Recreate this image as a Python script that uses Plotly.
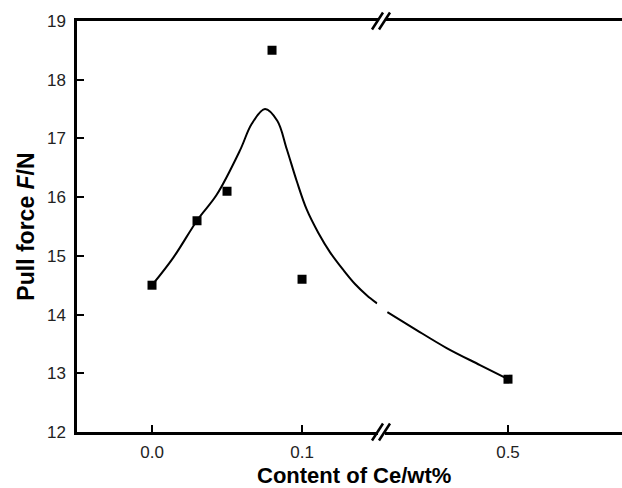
import plotly.graph_objects as go

# measured points
pts_x_left = [0.0, 0.03, 0.05, 0.08, 0.1]
pts_y_left = [14.5, 15.6, 16.1, 18.5, 14.6]
pts_x_right = [0.5]
pts_y_right = [12.9]

# fitted curve
curve_x_left = [0.0, 0.0142, 0.0305, 0.0431, 0.0587, 0.0665, 0.0753,
                0.0835, 0.0898, 0.0965, 0.1031, 0.1109, 0.1187, 0.1275, 0.1353,
                0.1431, 0.1500]
curve_y_left = [14.5, 14.97, 15.62, 16.04, 16.80, 17.25, 17.50,
                17.30, 16.82, 16.27, 15.79, 15.39, 15.06, 14.76, 14.52,
                14.33, 14.19]
curve_x_right = [0.207, 0.270, 0.351, 0.432, 0.5]
curve_y_right = [14.04, 13.77, 13.43, 13.14, 12.9]

x_ticks_left = [0.0, 0.1]
x_ticktext_left = ["0.0", "0.1"]
x_ticks_right = [0.5]
x_ticktext_right = ["0.5"]
y_ticks = [12, 13, 14, 15, 16, 17, 18, 19]

W, H = 622, 488
ML, MR, MT, MB = 77, 0, 21, 56
pw = W - ML - MR
ph = H - MT - MB
d1 = (377.5 - ML) / pw
d2 = (384.5 - ML) / pw

FONT = "Liberation Sans, Arial, sans-serif"

fig = go.Figure()
fig.add_trace(go.Scatter(x=curve_x_left, y=curve_y_left, mode="lines",
                         line=dict(color="black", width=2, shape="spline", smoothing=1.0),
                         xaxis="x", yaxis="y", showlegend=False, hoverinfo="skip"))
fig.add_trace(go.Scatter(x=curve_x_right, y=curve_y_right, mode="lines",
                         line=dict(color="black", width=2, shape="spline", smoothing=1.0),
                         xaxis="x2", yaxis="y", showlegend=False, hoverinfo="skip"))
fig.add_trace(go.Scatter(x=pts_x_left, y=pts_y_left, mode="markers",
                         marker=dict(symbol="square", size=9, color="black"),
                         xaxis="x", yaxis="y", showlegend=False))
fig.add_trace(go.Scatter(x=pts_x_right, y=pts_y_right, mode="markers",
                         marker=dict(symbol="square", size=9, color="black"),
                         xaxis="x2", yaxis="y", showlegend=False))

axis_common = dict(showgrid=False, zeroline=False, showline=True, linecolor="black",
                   linewidth=2.5, ticks="inside", ticklen=7, tickwidth=2, tickcolor="black",
                   tickfont=dict(family=FONT, size=17, color="#222"), mirror=True)

fig.update_layout(
    width=W, height=H,
    margin=dict(l=ML, r=MR, t=MT, b=MB),
    plot_bgcolor="white", paper_bgcolor="white",
    xaxis=dict(domain=[0, d1], range=[-0.05, 0.1503], tickvals=x_ticks_left,
               ticktext=x_ticktext_left, anchor="y", ticklabelstandoff=3, **axis_common),
    xaxis2=dict(domain=[d2, 1], range=[0.2, 0.2 + (W - MR - 384.5) * 0.3 / 123.5],
                tickvals=x_ticks_right, ticktext=x_ticktext_right, anchor="y",
                ticklabelstandoff=3, **axis_common),
    yaxis=dict(range=[12, 19], tickvals=y_ticks, anchor="x", ticklabelstandoff=5,
               title=dict(text="Pull force <i>F</i>/N", standoff=6,
                          font=dict(family=FONT, size=23, color="black", weight="bold")),
               **{k: v for k, v in axis_common.items() if k != "mirror"}),
    annotations=[dict(text="<b>Content of Ce/wt%</b>", xref="paper", yref="paper",
                      x=(354 - ML) / pw, y=0, yanchor="top", yshift=-29, showarrow=False,
                      font=dict(family=FONT, size=22, color="black"))],
)

# axis break marks
dx = 5.5 / pw
dy = 8.5 / ph
shapes = []
for xc in (d1, d2):
    for yc in (0, 1):
        shapes.append(dict(type="line", xref="paper", yref="paper",
                           x0=xc - dx, y0=yc - dy, x1=xc + dx, y1=yc + dy,
                           line=dict(color="black", width=2.5)))
fig.update_layout(shapes=shapes)

fig.write_html("out.html")
